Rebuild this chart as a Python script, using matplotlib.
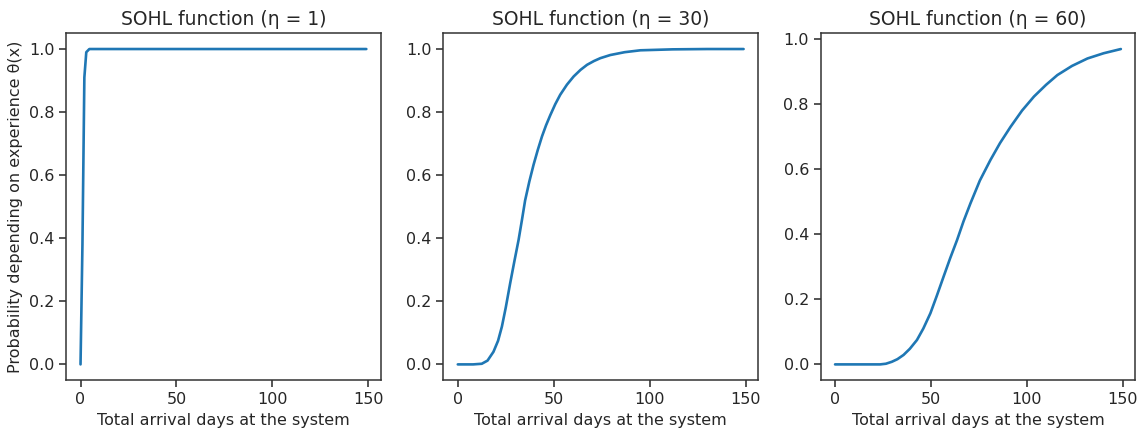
import matplotlib
matplotlib.use("Agg")
import matplotlib.pyplot as plt
import seaborn as sns

# values (days -> probability)
eta_values = [1, 30, 60]

x_eta1 = [0, 1, 2, 3, 4.6, 10, 50, 100, 149]
y_eta1 = [0.0, 0.38, 0.91, 0.99, 1.0, 1.0, 1.0, 1.0, 1.0]

x_eta30 = [0, 8, 12.5, 15.5, 18.6, 21, 23, 25, 27.3, 29.5, 31.7, 33.5, 35.1, 37.3,
           39.5, 41.7, 43.9, 46, 48.2, 50.8, 53.4, 56.9, 60.4, 64, 67.4, 71,
           74.3, 79.5, 87, 95.2, 112, 130, 149]
y_eta30 = [0.0, 0.0, 0.002, 0.012, 0.04, 0.075, 0.12, 0.18, 0.257, 0.327, 0.395,
           0.46, 0.52, 0.58, 0.633, 0.68, 0.723, 0.758, 0.79, 0.825, 0.855, 0.887,
           0.913, 0.934, 0.95, 0.962, 0.971, 0.981, 0.99, 0.996, 0.999, 1.0, 1.0]

x_eta60 = [0, 15, 23.5, 26.5, 29.6, 32.5, 35.7, 39, 42.7, 46, 49.7, 53, 56.6,
           60, 63.6, 67, 70.6, 75.5, 81, 86, 91.5, 97.5, 103.7, 110, 115.9,
           123.5, 131.6, 140, 149]
y_eta60 = [0.0, 0.0, 0.0, 0.002, 0.008, 0.016, 0.029, 0.048, 0.075, 0.11, 0.157,
           0.21, 0.27, 0.326, 0.382, 0.44, 0.495, 0.565, 0.628, 0.68, 0.73, 0.78,
           0.823, 0.859, 0.889, 0.917, 0.94, 0.956, 0.969]

curves = [(x_eta1, y_eta1), (x_eta30, y_eta30), (x_eta60, y_eta60)]

sns.set_style("ticks")
plt.rcParams["font.family"] = ["DejaVu Sans"]

fig, axes = plt.subplots(1, 3, figsize=(11.42, 4.32), dpi=100)
fig.subplots_adjust(left=0.058, right=0.994, bottom=0.12, top=0.923, wspace=0.2)

for ax, eta, (xs, ys) in zip(axes, eta_values, curves):
    ax.plot(xs, ys, color="#1f77b4", linewidth=1.9)
    ax.set_title(f"SOHL function (η = {eta})", fontsize=13.5, color=".15")
    ax.set_xlabel("Total arrival days at the system", fontsize=11.5, color=".15")
    ax.set_xticks([0, 50, 100, 150])
    ax.tick_params(labelsize=11.5, length=5, width=1.1, colors=".15")
    for sp in ax.spines.values():
        sp.set_linewidth(1.1)
        sp.set_color(".2")

axes[0].set_ylabel("Probability depending on experience θ(x)", fontsize=11.5, color=".15")

fig.savefig("out.png", dpi=100)
